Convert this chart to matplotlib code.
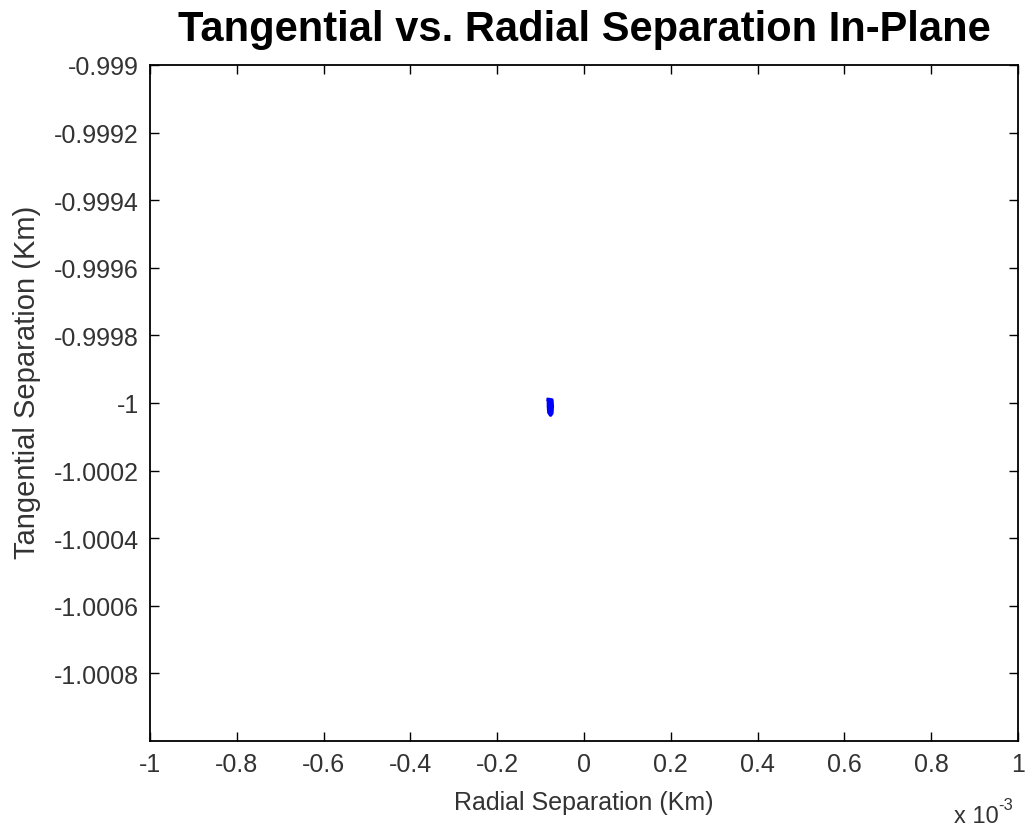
import matplotlib
matplotlib.use('Agg')
import matplotlib.pyplot as plt
import numpy as np
from matplotlib.ticker import FuncFormatter

plt.rcParams['font.family'] = ['Liberation Sans', 'DejaVu Sans']

# relative motion trace (km), radial vs tangential
radial = [-8.2e-5, -7.4e-5, -7.3e-5, -7.4e-5, -7.7e-5, -8.1e-5, -8.2e-5, -8.2e-5]
tangential = [-0.999990, -0.999991, -1.000010, -1.000030, -1.000036,
              -1.000028, -1.000010, -0.999990]

xticks = np.arange(-1e-3, 1.0001e-3, 2e-4)
yticks = np.arange(-0.999, -1.00081, -2e-4)

fig = plt.figure(figsize=(10.26, 8.28), dpi=100)
ax = fig.add_axes([0.1462, 0.1039, 0.846, 0.8164])

ax.fill(radial, tangential, color='#0000ff', lw=0)
ax.plot(radial, tangential, color='#0000ff', lw=2.5)

ax.set_xlim(-1e-3, 1e-3)
ax.set_ylim(-1.001, -0.999)
ax.set_xticks(xticks)
ax.set_yticks(yticks)
ax.xaxis.set_major_formatter(FuncFormatter(lambda v, p: f"{round(v * 1e3, 4):g}"))
ax.yaxis.set_major_formatter(FuncFormatter(lambda v, p: f"{round(v, 4):g}"))
ax.tick_params(direction='in', length=6.5, width=1, top=True, right=True,
               labelsize=18, labelcolor='#333333')
ax.tick_params(axis='x', pad=8)
ax.tick_params(axis='y', pad=8)
for s in ax.spines.values():
    s.set_linewidth(1.3)

ax.set_title('Tangential vs. Radial Separation In-Plane', fontsize=30,
             fontweight='bold', pad=18)
ax.set_xlabel('Radial Separation (Km)', fontsize=18, color='#333333')
ax.set_ylabel('Tangential Separation (Km)', fontsize=21, color='#333333')
ax.xaxis.set_label_coords(0.5, -0.072)
ax.yaxis.set_label_coords(-0.1256, 0.5325)

# axis multiplier
fig.text(0.930, 0.006, 'x 10', fontsize=17, color='#333333')
fig.text(0.973, 0.022, '-3', fontsize=12, color='#333333')

fig.savefig('out.png', dpi=100)
